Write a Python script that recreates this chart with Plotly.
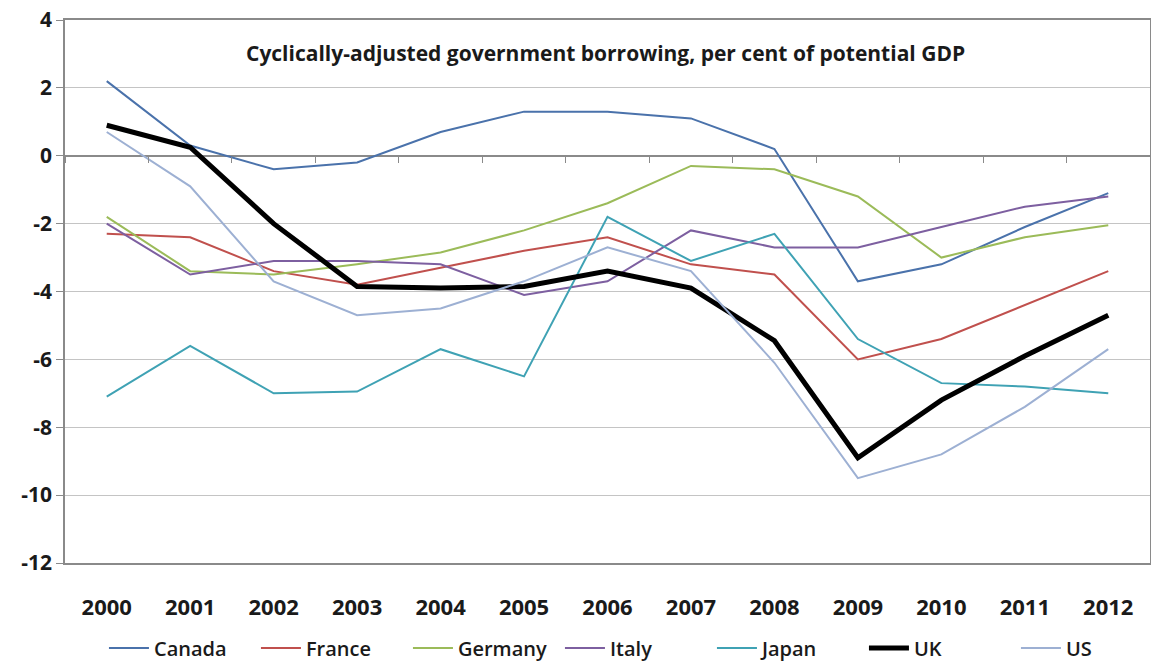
import plotly.graph_objects as go

years = ["2000", "2001", "2002", "2003", "2004", "2005", "2006",
         "2007", "2008", "2009", "2010", "2011", "2012"]

canada  = [2.2, 0.3, -0.4, -0.2, 0.7, 1.3, 1.3, 1.1, 0.2, -3.7, -3.2, -2.1, -1.1]
france  = [-2.3, -2.4, -3.4, -3.8, -3.3, -2.8, -2.4, -3.2, -3.5, -6.0, -5.4, -4.4, -3.4]
germany = [-1.8, -3.4, -3.5, -3.2, -2.85, -2.2, -1.4, -0.3, -0.4, -1.2, -3.0, -2.4, -2.05]
italy   = [-2.0, -3.5, -3.1, -3.1, -3.2, -4.1, -3.7, -2.2, -2.7, -2.7, -2.1, -1.5, -1.2]
japan   = [-7.1, -5.6, -7.0, -6.95, -5.7, -6.5, -1.8, -3.1, -2.3, -5.4, -6.7, -6.8, -7.0]
uk      = [0.9, 0.25, -2.0, -3.85, -3.9, -3.85, -3.4, -3.9, -5.45, -8.9, -7.2, -5.9, -4.7]
us      = [0.7, -0.9, -3.7, -4.7, -4.5, -3.7, -2.7, -3.4, -6.1, -9.5, -8.8, -7.4, -5.7]

y_tick_vals = [4, 2, 0, -2, -4, -6, -8, -10, -12]
y_tick_text = ["4", "2", "0", "-2", "-4", "-6", "-8", "-10", "-12"]

series = [
    ("Canada", canada, "#4A72AB", 2),
    ("France", france, "#C0504D", 2),
    ("Germany", germany, "#9BBB59", 2),
    ("Italy", italy, "#7D5FA0", 2),
    ("Japan", japan, "#3FA2B4", 2),
    ("UK", uk, "#000000", 5),
    ("US", us, "#9DB0D3", 2),
]

title_text = "Cyclically-adjusted government borrowing, per cent of potential GDP"
FONT = "Open Sans"
TXT = "#1a1a1a"

fig = go.Figure()
for name, vals, col, w in series:
    fig.add_trace(go.Scatter(x=years, y=vals, mode="lines", name=name,
                             line=dict(color=col, width=w)))

# invisible helper trace for the boundary-tick axis at y=0
fig.add_trace(go.Scatter(x=years, y=uk, mode="lines", xaxis="x2", yaxis="y",
                         line=dict(width=0, color="rgba(0,0,0,0)"),
                         showlegend=False, hoverinfo="skip"))

fig.update_layout(
    width=1151, height=661,
    margin=dict(l=65, r=1, t=20, b=98, autoexpand=False),
    paper_bgcolor="white", plot_bgcolor="white",
    font=dict(family=FONT, color=TXT),
    showlegend=True,
    legend=dict(orientation="h", x=0.0359, xanchor="left", y=-0.1565, yanchor="middle",
                font=dict(size=20, family=FONT, color=TXT, weight=600),
                itemwidth=40, tracegroupgap=0,
                entrywidth=97, entrywidthmode="pixels"),
    xaxis=dict(type="category", categoryorder="array", categoryarray=years,
               range=[-0.5, 12.5], showgrid=False, automargin=False,
               showline=True, linecolor="#8a8a8a", linewidth=1.5, mirror=True,
               ticks="outside", ticklen=24, tickcolor="rgba(0,0,0,0)",
               tickfont=dict(size=22, family=FONT, color=TXT, weight="bold")),
    xaxis2=dict(type="category", categoryorder="array", categoryarray=years,
                overlaying="x", anchor="free", position=0.75,
                range=[-0.5, 12.5], showgrid=False, showline=False,
                tickson="boundaries", ticks="outside", ticklen=6,
                tickcolor="#8a8a8a", tickwidth=1, showticklabels=False),
    yaxis=dict(range=[-12, 4], tickvals=y_tick_vals, ticktext=y_tick_text,
               automargin=False,
               showgrid=True, gridcolor="#c4c4c4", gridwidth=1,
               zeroline=True, zerolinecolor="#8a8a8a", zerolinewidth=1.5,
               showline=True, linecolor="#8a8a8a", linewidth=1.5, mirror=True,
               ticks="outside", ticklen=7, tickcolor="#8a8a8a",
               tickfont=dict(size=21, family=FONT, color=TXT, weight="bold")),
    annotations=[dict(text=title_text, xref="paper", yref="paper",
                      x=0.498, y=0.94, xanchor="center", yanchor="middle",
                      showarrow=False,
                      font=dict(size=21, family=FONT, color=TXT, weight="bold"))],
)

fig.write_html("out.html")
